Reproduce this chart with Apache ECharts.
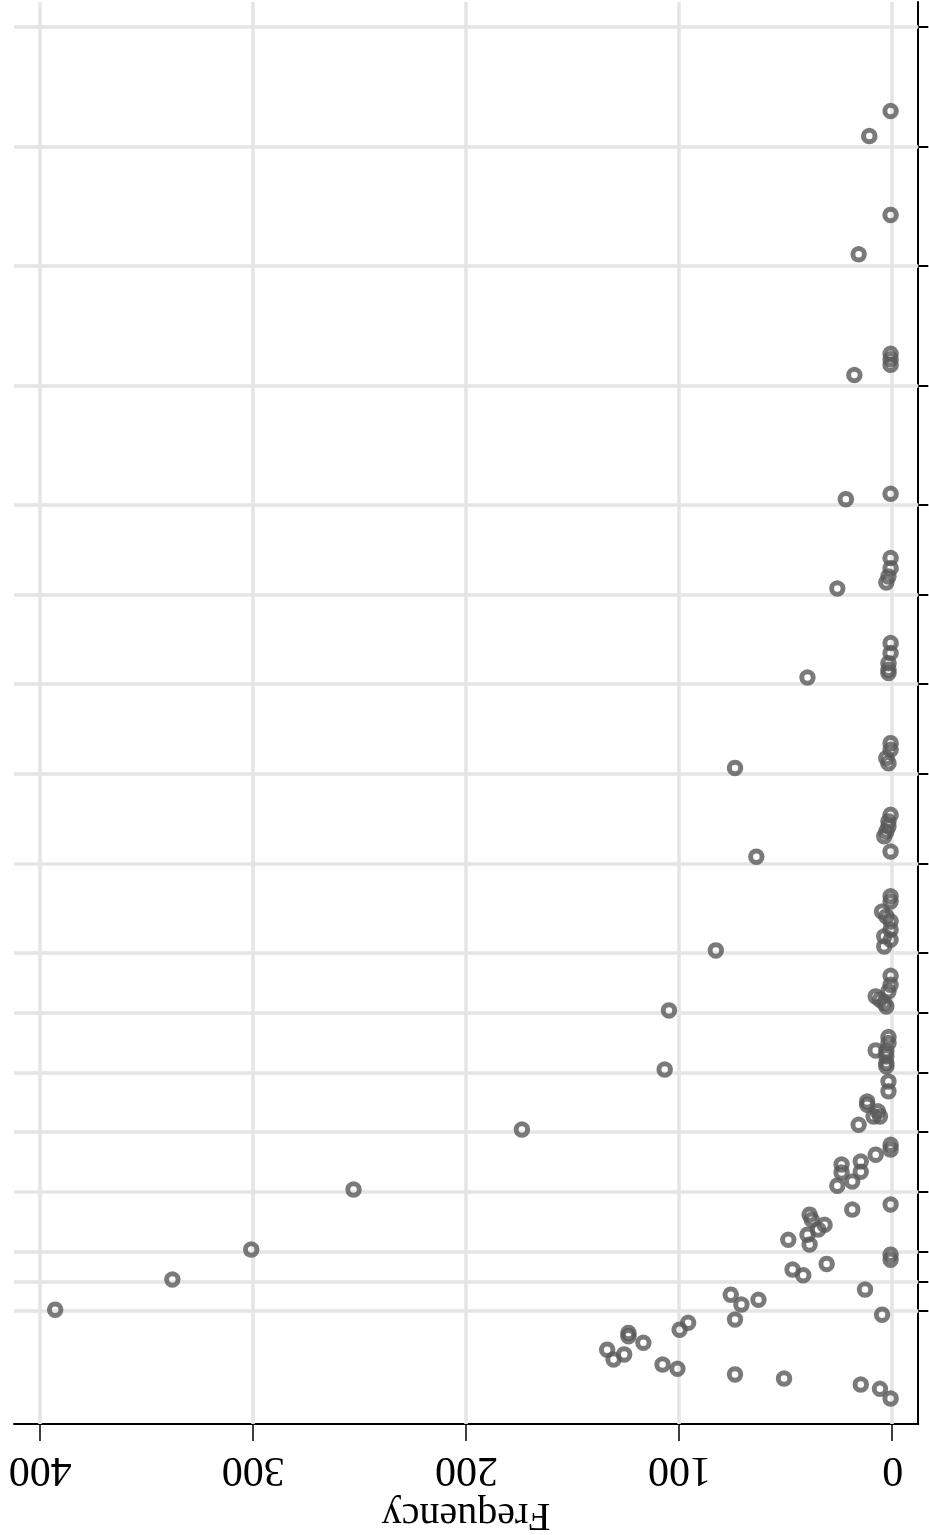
<!DOCTYPE html>
<html>
<head>
<meta charset="utf-8">
<script src="https://cdn.jsdelivr.net/npm/echarts@6/dist/echarts.min.js"></script>
<style>
html,body{margin:0;padding:0;background:#fff;}
#chart{width:929px;height:1535px;transform:rotate(180deg);}
</style>
</head>
<body>
<div id="chart"></div>
<script>
// Frequency of each point (x value)
const frequency = [
  1, 11,
  1, 16,
  1, 1, 1, 18,
  1, 22,
  1, 1, 2, 3, 26,
  1, 1, 2, 2, 2, 40,
  1, 1, 3, 2, 74,
  1, 2, 2, 3, 4, 1, 64,
  1, 1, 5, 3, 1, 1, 4, 1, 4, 83,
  1, 1, 2, 8, 6, 4, 3, 105,
  2, 2, 8, 3, 3, 3, 3, 107,
  2, 2, 12, 12, 7, 9, 6, 16, 174,
  1, 1, 8, 15, 24, 24, 15, 19, 26, 253,
  1, 19, 39, 38, 32, 35, 40, 49, 39, 301,
  1, 1, 31, 47, 42, 338,
  13, 76, 63, 71, 393,
  5, 74, 96, 100, 124, 124, 117, 134, 126, 131, 108, 101, 74, 51, 15, 6, 1
];
// Vertical position of each point (y value)
const position = [
  2.79, 3.63,
  6.27, 7.59,
  10.92, 11.10, 11.29, 11.63,
  15.61, 15.79,
  17.76, 18.10, 18.38, 18.58, 18.78,
  20.61, 20.94, 21.28, 21.50, 21.61, 21.76,
  23.96, 24.18, 24.46, 24.63, 24.79,
  26.36, 26.58, 26.75, 26.92, 27.08, 27.59, 27.76,
  29.09, 29.26, 29.60, 29.76, 29.93, 30.21, 30.43, 30.54, 30.77, 30.90,
  31.75, 32.05, 32.27, 32.44, 32.55, 32.66, 32.78, 32.91,
  33.80, 34.00, 34.25, 34.28, 34.45, 34.67, 34.78, 34.89,
  35.29, 35.62, 35.96, 36.07, 36.29, 36.46, 36.46, 36.74, 36.90,
  37.41, 37.57, 37.74, 37.97, 38.07, 38.34, 38.31, 38.64, 38.78, 38.91,
  39.41, 39.58, 39.75, 39.92, 40.09, 40.25, 40.42, 40.59, 40.75, 40.92,
  41.09, 41.26, 41.40, 41.59, 41.78, 41.92,
  42.26, 42.43, 42.60, 42.76, 42.93,
  43.10, 43.26, 43.37, 43.60, 43.71, 43.82, 44.04, 44.27, 44.43, 44.60, 44.77, 44.91, 45.10, 45.24, 45.44, 45.58, 45.91
];
const xTicks = [0, 100, 200, 300, 400];
const yTicks = [0, 4, 8, 12, 16, 19, 22, 25, 28, 31, 33, 35, 37, 39, 41, 42, 43];
const xTitle = 'Frequency';

const FONT = '"Liberation Serif", "Times New Roman", serif';
const chart = echarts.init(document.getElementById('chart'), null, {renderer: 'canvas'});
const points = frequency.map((f, i) => [f, position[i]]);

chart.setOption({
  animation: false,
  backgroundColor: '#ffffff',
  grid: {left: 10.7, right: 14, top: 111, bottom: 2, outerBoundsMode: 'none'},
  xAxis: {
    type: 'value',
    position: 'top',
    min: -12,
    max: 412.3,
    name: xTitle,
    nameLocation: 'middle',
    nameGap: 66,
    nameTextStyle: {fontFamily: FONT, fontSize: 40, color: '#000'},
    axisLine: {show: true, onZero: false, lineStyle: {color: '#000', width: 2}},
    axisTick: {show: true, inside: false, customValues: xTicks, length: 17, lineStyle: {color: '#000', width: 1.5}},
    axisLabel: {show: true, customValues: xTicks, fontFamily: FONT, fontSize: 42, color: '#000', margin: 24},
    splitLine: {show: false}
  },
  yAxis: {
    type: 'value',
    position: 'left',
    min: -0.86,
    max: 46.76,
    axisLine: {show: true, onZero: false, lineStyle: {color: '#000', width: 2}},
    axisTick: {show: true, inside: false, customValues: yTicks, length: 10, lineStyle: {color: '#000', width: 2}},
    axisLabel: {show: false},
    splitLine: {show: false}
  },
  series: [
    {
      type: 'scatter',
      data: [],
      silent: true,
      markLine: {
        silent: true,
        symbol: ['none', 'none'],
        label: {show: false},
        emphasis: {disabled: true},
        lineStyle: {color: '#e5e5e5', width: 3.5, type: 'solid'},
        data: xTicks.map(v => ({xAxis: v})).concat(yTicks.map(v => ({yAxis: v})))
      }
    },
    {
      type: 'scatter',
      z: 10,
      silent: true,
      data: points,
      symbol: 'circle',
      symbolSize: 11.5,
      itemStyle: {color: 'rgba(0,0,0,0)', borderColor: '#595959', borderWidth: 5}
    }
  ]
});
</script>
</body>
</html>
